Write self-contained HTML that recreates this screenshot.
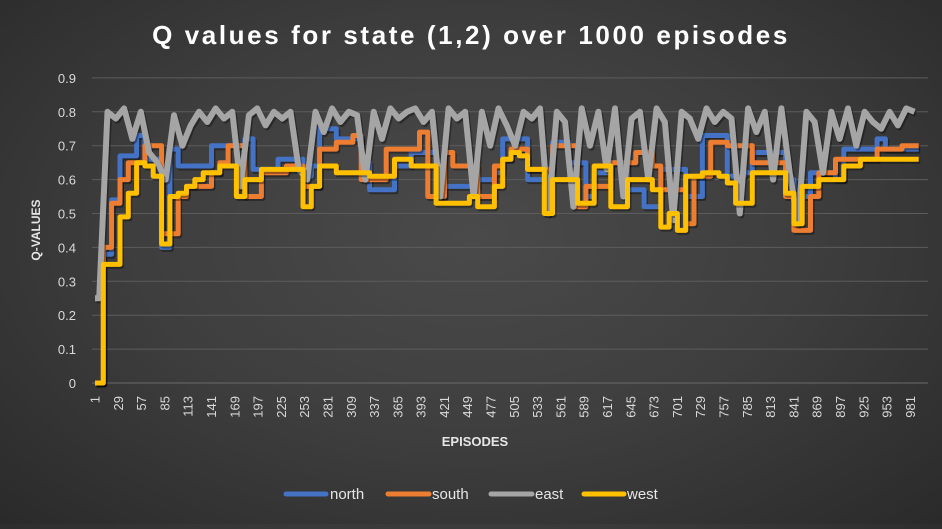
<!DOCTYPE html>
<html><head><meta charset="utf-8"><style>
html,body{margin:0;padding:0;}
body{width:942px;height:524px;overflow:hidden;background:radial-gradient(ellipse at 50% 45%,#4a4a4a 0%,#3e3e3e 50%,#2a2a2a 100%);font-family:"Liberation Sans",sans-serif;}
svg text{font-family:"Liberation Sans",sans-serif;}
</style></head><body>
<svg id="chart" width="942" height="524" xmlns="http://www.w3.org/2000/svg">
<text x="471" y="44" text-anchor="middle" font-size="26" font-weight="bold" letter-spacing="2.6" fill="#ffffff">Q values for state (1,2) over 1000 episodes</text>
<g id="grid"></g>
<g id="yticks"></g>
<g id="xticks"></g>
<g id="series"></g>
<text transform="translate(40,230) rotate(-90)" text-anchor="middle" font-size="12" font-weight="bold" fill="#e6e6e6">Q-VALUES</text>
<text x="475" y="446" text-anchor="middle" font-size="13" font-weight="bold" fill="#e6e6e6">EPISODES</text>
<g font-size="15" fill="#e6e6e6">
 <g><line x1="286" y1="494" x2="326" y2="494" stroke="#4472c4" stroke-width="5" stroke-linecap="round"/><text x="330" y="499">north</text></g>
 <g><line x1="388" y1="494" x2="429" y2="494" stroke="#ed7d31" stroke-width="5" stroke-linecap="round"/><text x="432" y="499">south</text></g>
 <g><line x1="491" y1="494" x2="532" y2="494" stroke="#a5a5a5" stroke-width="5" stroke-linecap="round"/><text x="535" y="499">east</text></g>
 <g><line x1="584" y1="494" x2="624" y2="494" stroke="#ffc000" stroke-width="5" stroke-linecap="round"/><text x="627" y="499">west</text></g>
</g>
</svg>
<script>
// episodes sampled every 10 (1, 11, 21, ... 981)
const episodes = Array.from({length:99},(_,i)=>1+10*i);
const yTickValues = [0,0.1,0.2,0.3,0.4,0.5,0.6,0.7,0.8,0.9];
const yTickLabels = ["0","0.1","0.2","0.3","0.4","0.5","0.6","0.7","0.8","0.9"];
const xTickLabels = [1,29,57,85,113,141,169,197,225,253,281,309,337,365,393,421,449,477,505,533,561,589,617,645,673,701,729,757,785,813,841,869,897,925,953,981];
const northValues = [0,0.38,0.54,0.67,0.67,0.73,0.66,0.66,0.40,0.69,0.64,0.64,0.64,0.64,0.70,0.70,0.70,0.70,0.72,0.63,0.63,0.63,0.66,0.66,0.66,0.61,0.64,0.75,0.75,0.72,0.72,0.72,0.65,0.57,0.57,0.57,0.64,0.64,0.68,0.68,0.68,0.55,0.58,0.58,0.58,0.58,0.60,0.60,0.62,0.72,0.72,0.72,0.60,0.60,0.60,0.71,0.71,0.65,0.65,0.55,0.62,0.62,0.65,0.65,0.57,0.57,0.52,0.52,0.63,0.63,0.63,0.55,0.55,0.73,0.73,0.73,0.61,0.61,0.62,0.68,0.68,0.68,0.68,0.60,0.55,0.55,0.62,0.62,0.62,0.60,0.69,0.69,0.69,0.69,0.72,0.69,0.69,0.69,0.69];
const southValues = [0,0.40,0.53,0.60,0.65,0.65,0.70,0.70,0.44,0.44,0.55,0.58,0.58,0.58,0.62,0.65,0.70,0.70,0.55,0.55,0.62,0.62,0.62,0.64,0.64,0.58,0.58,0.69,0.69,0.71,0.71,0.73,0.60,0.60,0.60,0.69,0.69,0.69,0.69,0.74,0.55,0.55,0.68,0.64,0.64,0.64,0.55,0.55,0.64,0.66,0.69,0.69,0.63,0.63,0.63,0.70,0.70,0.70,0.52,0.58,0.58,0.58,0.65,0.65,0.65,0.68,0.68,0.64,0.57,0.57,0.57,0.47,0.61,0.61,0.71,0.71,0.70,0.70,0.70,0.65,0.65,0.65,0.65,0.55,0.45,0.45,0.55,0.62,0.62,0.66,0.66,0.66,0.66,0.66,0.69,0.69,0.69,0.70,0.70];
const eastValues = [0.25,0.80,0.78,0.81,0.72,0.80,0.68,0.65,0.60,0.79,0.70,0.76,0.80,0.77,0.81,0.78,0.80,0.58,0.79,0.81,0.76,0.80,0.78,0.80,0.63,0.60,0.80,0.74,0.81,0.77,0.80,0.79,0.60,0.80,0.72,0.81,0.78,0.80,0.81,0.77,0.80,0.55,0.81,0.78,0.80,0.55,0.80,0.70,0.81,0.76,0.70,0.80,0.78,0.81,0.50,0.80,0.77,0.52,0.81,0.70,0.80,0.63,0.81,0.55,0.78,0.80,0.60,0.81,0.77,0.48,0.80,0.78,0.72,0.81,0.77,0.80,0.78,0.50,0.81,0.74,0.80,0.60,0.81,0.62,0.47,0.80,0.77,0.62,0.80,0.72,0.81,0.70,0.80,0.77,0.75,0.80,0.76,0.81,0.80];
const westValues = [0,0.35,0.35,0.49,0.56,0.65,0.64,0.61,0.41,0.55,0.56,0.58,0.60,0.62,0.62,0.64,0.64,0.55,0.60,0.60,0.63,0.63,0.63,0.63,0.63,0.52,0.58,0.64,0.64,0.62,0.62,0.62,0.62,0.61,0.61,0.61,0.66,0.66,0.64,0.64,0.64,0.53,0.53,0.53,0.53,0.55,0.52,0.52,0.58,0.66,0.68,0.67,0.63,0.63,0.50,0.60,0.60,0.60,0.53,0.53,0.64,0.64,0.52,0.52,0.60,0.60,0.60,0.57,0.46,0.50,0.45,0.61,0.61,0.62,0.62,0.61,0.59,0.53,0.53,0.62,0.62,0.62,0.62,0.56,0.47,0.58,0.58,0.60,0.60,0.60,0.64,0.64,0.66,0.66,0.66,0.66,0.66,0.66,0.66];

const NS="http://www.w3.org/2000/svg";
const X0=95, PX=0.832, Y0=383, PY=339, LEFT=92, RIGHT=928;
const xScale = e => X0 + PX*(e-1);
const yScale = v => Y0 - v*PY;

const grid=document.getElementById('grid'), yt=document.getElementById('yticks'), xt=document.getElementById('xticks'), ser=document.getElementById('series');
yTickValues.forEach((v,i)=>{
  const l=document.createElementNS(NS,'line');
  l.setAttribute('x1',LEFT);l.setAttribute('x2',RIGHT);
  l.setAttribute('y1',yScale(v));l.setAttribute('y2',yScale(v));
  l.setAttribute('stroke',i===0?'#6a6a6a':'#5c5c5c');l.setAttribute('stroke-width','1');
  
  
  grid.appendChild(l);
  const t=document.createElementNS(NS,'text');
  t.setAttribute('x',76);t.setAttribute('y',yScale(v)+5);
  t.setAttribute('text-anchor','end');t.setAttribute('font-size','13');t.setAttribute('fill','#d9d9d9');
  t.textContent=yTickLabels[i];
  
  
  yt.appendChild(t);
});
xTickLabels.forEach(e=>{
  const t=document.createElementNS(NS,'text');
  const x=xScale(e)+4.5;
  t.setAttribute('transform','translate('+x+',396) rotate(-90)');
  t.setAttribute('text-anchor','end');t.setAttribute('font-size','13');t.setAttribute('fill','#d9d9d9');
  t.textContent=String(e);
  
  
  xt.appendChild(t);
});
function drawSeries(vals,color,name,stepped,width){
  let d='';
  vals.forEach((v,i)=>{
    const y=yScale(v);
    if(stepped){
      const x1=xScale(episodes[i]), x2=xScale(episodes[i]+10);
      d+=(i===0?'M':'L')+x1.toFixed(1)+','+y.toFixed(1)+'L'+x2.toFixed(1)+','+y.toFixed(1);
    } else {
      const x=xScale(episodes[i]+5);
      if(i===0) d+='M'+xScale(episodes[0]).toFixed(1)+','+y.toFixed(1);
      d+='L'+x.toFixed(1)+','+y.toFixed(1);
    }
  });
  const sh=document.createElementNS(NS,'path');
  sh.setAttribute('d',d);sh.setAttribute('fill','none');sh.setAttribute('stroke','rgba(0,0,0,0.35)');sh.setAttribute('stroke-width',width);sh.setAttribute('transform','translate(1.5,2)');sh.setAttribute('stroke-linejoin','round');
  
  
  ser.appendChild(sh);
  const p=document.createElementNS(NS,'path');
  p.setAttribute('d',d);p.setAttribute('fill','none');p.setAttribute('stroke',color);p.setAttribute('stroke-width',width);p.setAttribute('stroke-linejoin','round');
  
  
  ser.appendChild(p);
}
drawSeries(northValues,'#4472c4','north',true,5);
drawSeries(southValues,'#ed7d31','south',true,5);
drawSeries(eastValues,'#a5a5a5','east',false,6);
drawSeries(westValues,'#ffc000','west',true,5);
</script>
</body></html>
